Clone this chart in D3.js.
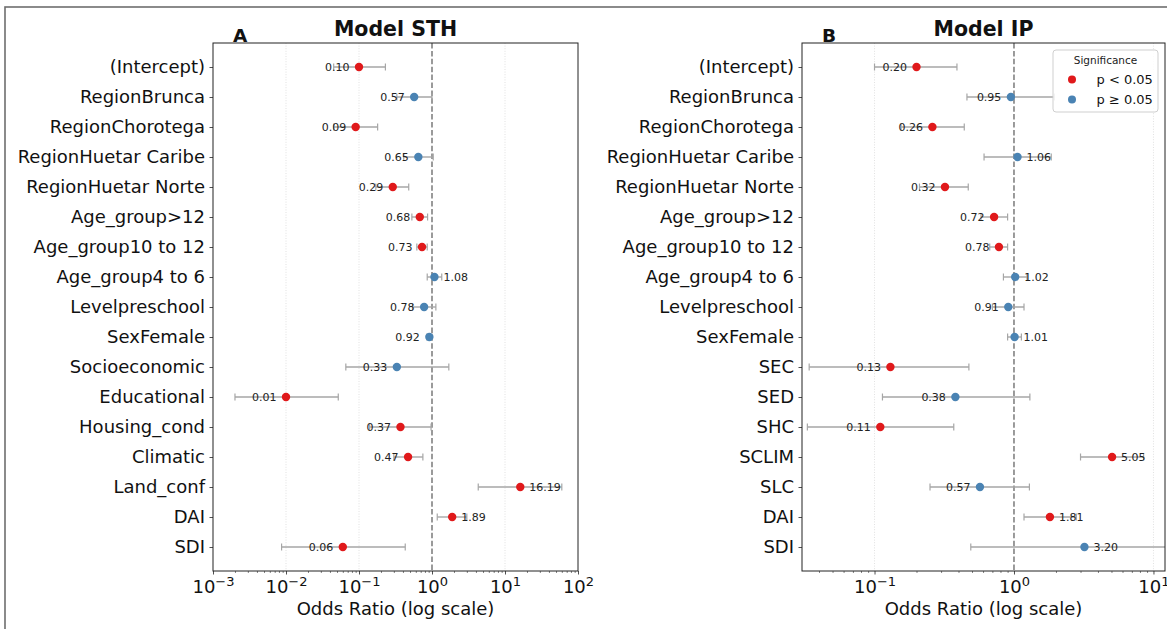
<!DOCTYPE html>
<html>
<head>
<meta charset="utf-8">
<script src="https://cdn.jsdelivr.net/npm/d3@7"></script>
<style>
  html, body { margin: 0; padding: 0; background: #fff; }
  svg { display: block; font-family: "DejaVu Sans", sans-serif; }
</style>
</head>
<body>
<svg id="chart" width="1167" height="629"></svg>
<script>
// ---------- Data ----------
const termsA = ["(Intercept)","RegionBrunca","RegionChorotega","RegionHuetar Caribe","RegionHuetar Norte",
  "Age_group>12","Age_group10 to 12","Age_group4 to 6","Levelpreschool","SexFemale",
  "Socioeconomic","Educational","Housing_cond","Climatic","Land_conf","DAI","SDI"];
const oddsA = [0.10,0.57,0.09,0.65,0.29,0.68,0.73,1.08,0.78,0.92,0.33,0.01,0.37,0.47,16.19,1.89,0.06];
const lowA  = [0.045,0.33,0.045,0.41,0.17,0.53,0.62,0.86,0.54,0.85,0.066,0.002,0.14,0.30,4.3,1.18,0.0087];
const highA = [0.23,1.0,0.18,1.04,0.48,0.87,0.86,1.36,1.13,1.0,1.7,0.052,0.97,0.75,60,3.0,0.43];
const sigA  = [true,false,true,false,true,true,true,false,false,false,false,true,true,true,true,true,true];

const termsB = ["(Intercept)","RegionBrunca","RegionChorotega","RegionHuetar Caribe","RegionHuetar Norte",
  "Age_group>12","Age_group10 to 12","Age_group4 to 6","Levelpreschool","SexFemale",
  "SEC","SED","SHC","SCLIM","SLC","DAI","SDI"];
const oddsB = [0.20,0.95,0.26,1.06,0.32,0.72,0.78,1.02,0.91,1.01,0.13,0.38,0.11,5.05,0.57,1.81,3.20];
const lowB  = [0.10,0.46,0.155,0.61,0.21,0.58,0.67,0.84,0.70,0.90,0.034,0.114,0.033,3.0,0.25,1.18,0.49];
const highB = [0.39,1.95,0.44,1.85,0.47,0.90,0.90,1.24,1.18,1.13,0.475,1.30,0.37,8.5,1.29,2.8,21];
const sigB  = [true,false,true,false,true,true,true,false,false,false,true,false,true,true,false,true,false];

const titles = ["Model STH", "Model IP"];
const letters = ["A", "B"];
const legendTitle = "Significance";
const legendLabels = ["p < 0.05", "p \u2265 0.05"];
const xLabel = "Odds Ratio (log scale)";
const majorTicksA = [1e-3,1e-2,1e-1,1e0,1e1,1e2];
const majorTicksB = [1e-1,1e0,1e1];

// ---------- Layout ----------
const RED = "#e0191b", BLUE = "#4a83b3";
const yTop = 43, yBottom = 571;
const panels = [
  {terms: termsA, odds: oddsA, low: lowA, high: highA, sig: sigA, x0: 213, x1: 578, dom: [1e-3, 1e2], major: majorTicksA},
  {terms: termsB, odds: oddsB, low: lowB, high: highB, sig: sigB, x0: 802, x1: 1165, dom: [0.0302, 12.1], major: majorTicksB}
];

const svg = d3.select("#chart");
// figure border
svg.append("rect").attr("x", 5).attr("y", 7).attr("width", 1200).attr("height", 700)
  .attr("fill", "none").attr("stroke", "#6e6e6e").attr("stroke-width", 1.6);

const fmt = d3.format(".2f");

panels.forEach((p, pi) => {
  const n = p.terms.length;
  const x = d3.scaleLog().domain(p.dom).range([p.x0, p.x1]);
  const y = d3.scaleLinear().domain([-0.8, n - 0.2]).range([yTop, yBottom]);
  const g = svg.append("g");
  const clipId = "clip" + pi;
  svg.append("clipPath").attr("id", clipId).append("rect")
    .attr("x", p.x0).attr("y", yTop).attr("width", p.x1 - p.x0).attr("height", yBottom - yTop);

  // grid
  g.append("g").selectAll("line").data(p.major.filter(v => v > p.dom[0] && v < p.dom[1] && v !== 1)).join("line")
    .attr("x1", d => x(d)).attr("x2", d => x(d)).attr("y1", yTop).attr("y2", yBottom)
    .attr("stroke", "#d9d9d9").attr("stroke-width", 0.8).attr("stroke-dasharray", "1,1.6");

  // reference line
  g.append("line").attr("x1", x(1)).attr("x2", x(1)).attr("y1", yTop).attr("y2", yBottom)
    .attr("stroke", "#7a7a7a").attr("stroke-width", 1.5).attr("stroke-dasharray", "5.5,2.4");

  const rows = d3.range(n);
  const plot = g.append("g").attr("clip-path", `url(#${clipId})`);
  // error bars
  plot.selectAll("line.ci").data(rows).join("line").attr("class", "ci")
    .attr("x1", i => x(p.low[i])).attr("x2", i => x(p.high[i]))
    .attr("y1", i => y(i)).attr("y2", i => y(i))
    .attr("stroke", "#a6a6a6").attr("stroke-width", 1.4);
  ["low", "high"].forEach(k => {
    plot.selectAll("line.cap" + k).data(rows).join("line").attr("class", "cap" + k)
      .attr("x1", i => x(p[k][i])).attr("x2", i => x(p[k][i]))
      .attr("y1", i => y(i) - 3.5).attr("y2", i => y(i) + 3.5)
      .attr("stroke", "#a6a6a6").attr("stroke-width", 1.2);
  });
  // value labels
  plot.selectAll("text.val").data(rows).join("text").attr("class", "val")
    .attr("x", i => p.odds[i] < 1 ? x(p.odds[i]) - 9.5 : x(p.odds[i]) + 9)
    .attr("y", i => y(i)).attr("dy", "0.35em")
    .attr("text-anchor", i => p.odds[i] < 1 ? "end" : "start")
    .attr("font-size", 11).attr("fill", "#222")
    .text(i => fmt(p.odds[i]));
  // points
  plot.selectAll("circle").data(rows).join("circle")
    .attr("cx", i => x(p.odds[i])).attr("cy", i => y(i)).attr("r", 4.2)
    .attr("fill", i => p.sig[i] ? RED : BLUE);

  // y axis
  const ya = g.append("g").attr("transform", `translate(${p.x0},0)`)
    .call(d3.axisLeft(y).tickValues(rows).tickFormat(i => p.terms[i]).tickSize(3.5).tickPadding(4.5));
  ya.select(".domain").remove();
  ya.selectAll("text").attr("font-size", 18).attr("font-family", "DejaVu Sans").attr("fill", "#111");
  ya.selectAll("line").attr("stroke", "#222").attr("stroke-width", 0.8);

  // minor x ticks
  const minor = [];
  for (let k = -4; k <= 3; k++) for (let m = 2; m <= 9; m++) {
    const v = m * Math.pow(10, k);
    if (v > p.dom[0] && v < p.dom[1]) minor.push(v);
  }
  const xm = g.append("g").attr("transform", `translate(0,${yBottom})`)
    .call(d3.axisBottom(x).tickValues(minor).tickFormat("").tickSize(2));
  xm.select(".domain").remove();
  xm.selectAll("line").attr("stroke", "#333").attr("stroke-width", 0.6);

  // major x ticks
  const xa = g.append("g").attr("transform", `translate(0,${yBottom})`)
    .call(d3.axisBottom(x).tickValues(p.major).tickFormat(d => "").tickSize(3.5));
  xa.select(".domain").remove();
  xa.selectAll("line").attr("stroke", "#222").attr("stroke-width", 0.8);
  xa.selectAll("text").each(function(d) {
    const t = d3.select(this).attr("y", 22).attr("dy", null)
      .attr("font-size", 18).attr("fill", "#111").attr("font-family", "DejaVu Sans");
    const e = Math.round(Math.log10(d));
    t.text("");
    t.append("tspan").text("10");
    t.append("tspan").attr("font-size", 13).attr("dy", -7.5).text(String(e).replace("-", "\u2212"));
  });

  // frame
  g.append("rect").attr("x", p.x0).attr("y", yTop).attr("width", p.x1 - p.x0).attr("height", yBottom - yTop)
    .attr("fill", "none").attr("stroke", "#222").attr("stroke-width", 1);

  // titles
  const cx = (p.x0 + p.x1) / 2;
  g.append("text").attr("x", cx).attr("y", 36).attr("text-anchor", "middle")
    .attr("font-size", 20.5).attr("font-weight", "bold").attr("fill", "#111").text(titles[pi]);
  g.append("text").attr("x", p.x0 + 20).attr("y", 41.5)
    .attr("font-size", 18.5).attr("font-weight", "bold").attr("fill", "#111").text(letters[pi]);
  g.append("text").attr("x", cx).attr("y", 615).attr("text-anchor", "middle")
    .attr("font-size", 18).attr("fill", "#111").text(xLabel);

  // legend (panel B)
  if (pi === 1) {
    const lg = g.append("g");
    lg.append("rect").attr("x", 1053).attr("y", 50).attr("width", 105).attr("height", 62).attr("rx", 3)
      .attr("fill", "#fff").attr("fill-opacity", 0.85).attr("stroke", "#cfcfcf").attr("stroke-width", 1);
    lg.append("text").attr("x", 1105.5).attr("y", 63.5).attr("text-anchor", "middle")
      .attr("font-size", 10.5).attr("fill", "#222").text(legendTitle);
    const cols = [RED, BLUE];
    legendLabels.forEach((lab, i) => {
      lg.append("circle").attr("cx", 1072).attr("cy", 79.5 + i * 20).attr("r", 4).attr("fill", cols[i]);
      lg.append("text").attr("x", 1096.5).attr("y", 84 + i * 20)
        .attr("font-size", 13).attr("fill", "#111").text(lab);
    });
  }
});
</script>
</body>
</html>
